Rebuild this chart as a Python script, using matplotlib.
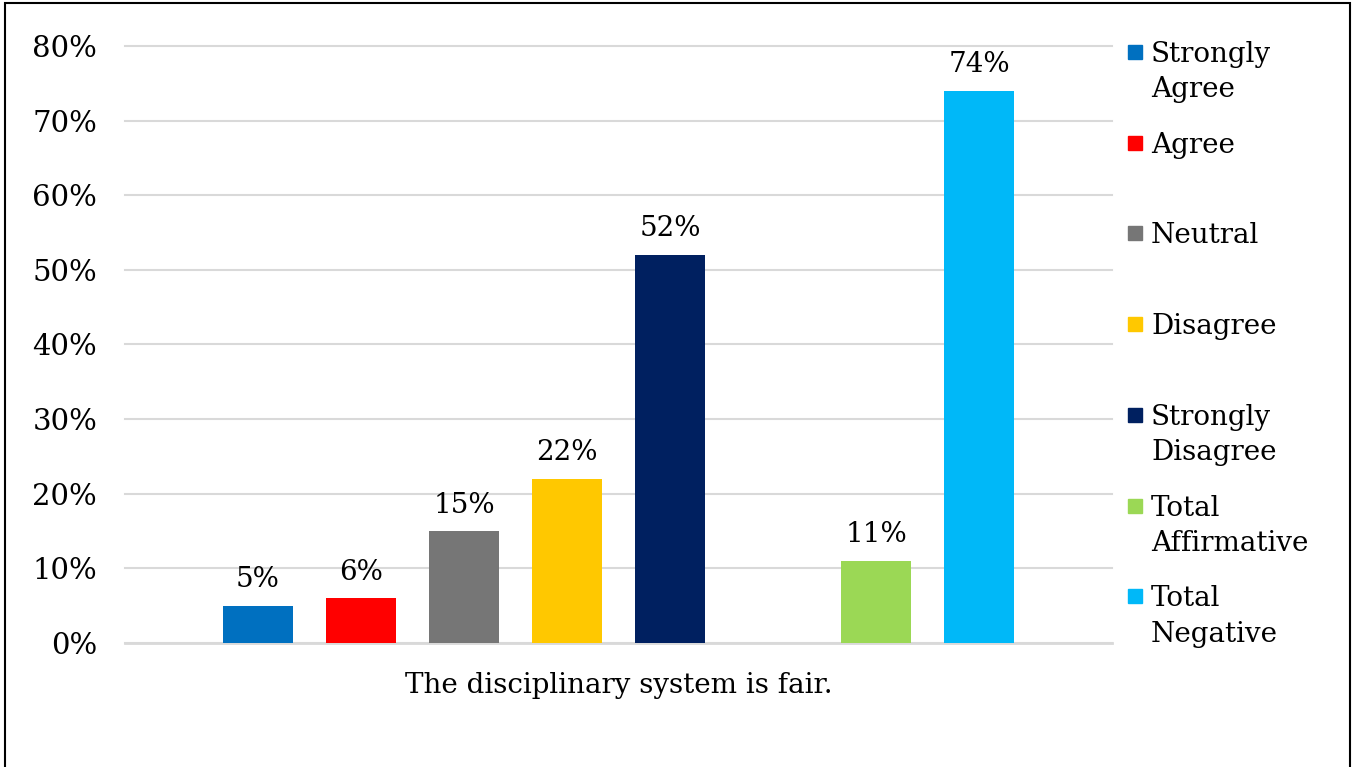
import matplotlib.pyplot as plt
from matplotlib.patches import Rectangle

labels = ["Strongly\nAgree", "Agree", "Neutral", "Disagree",
          "Strongly\nDisagree", "Total\nAffirmative", "Total\nNegative"]
values = [0.05, 0.06, 0.15, 0.22, 0.52, 0.11, 0.74]
slots = [0, 1, 2, 3, 4, 6, 7]  # slot 5 is left empty, as in the original
colors = ["#0070C0", "#FF0000", "#767676", "#FFC800", "#002060", "#9BD855", "#00B8F8"]
category = "The disciplinary system is fair."
yticks = [0, 0.1, 0.2, 0.3, 0.4, 0.5, 0.6, 0.7, 0.8]

plt.rcParams['font.family'] = ['DejaVu Serif']
fs = 20

fig = plt.figure(figsize=(13.53, 7.67), dpi=100)
ax = fig.add_axes([0.0924, 0.1617, 0.822 - 0.0924, 0.940 - 0.1617])

bars = ax.bar(slots, values, width=0.68, color=colors, zorder=3)
for x, v in zip(slots, values):
    ax.annotate(f"{v*100:.0f}%", (x, v), xytext=(0, 9), textcoords="offset points",
                ha="center", va="bottom", fontsize=fs)

ax.set_xlim(-1.29, 8.29)
ax.set_ylim(0, 0.8)
ax.set_yticks(yticks)
ax.set_yticklabels([f"{t*100:.0f}%" for t in yticks], fontsize=fs + 1)
ax.set_xticks([3.5])
ax.set_xticklabels([category], fontsize=fs)
ax.tick_params(axis="both", length=0)
ax.tick_params(axis="y", pad=20)
ax.tick_params(axis="x", pad=21)
ax.grid(axis="y", color="#d9d9d9", linewidth=1.5, zorder=0)
for gl in ax.get_ygridlines():
    gl.set_clip_on(False)
for s in ["top", "right", "left"]:
    ax.spines[s].set_visible(False)
ax.spines["bottom"].set_color("#d9d9d9")
ax.spines["bottom"].set_linewidth(2)

# legend, drawn by hand so every entry gets the same height
W, H = 1353, 767
for i, (lab, c) in enumerate(zip(labels, colors)):
    yc = 52 + i * 90.7
    fig.patches.append(Rectangle((1128 / W, 1 - (yc + 7) / H), 14 / W, 14 / H,
                                 transform=fig.transFigure, color=c))
    fig.text(1151 / W, 1 - (yc - 11) / H, lab, fontsize=fs, va="top", ha="left",
             linespacing=1.4)

# outer frame
fig.patches.append(Rectangle((5 / W, -0.05), (1350 - 5) / W, 1.05 - 3 / H,
                             transform=fig.transFigure, fill=False,
                             edgecolor="black", linewidth=1.5))

fig.savefig("out.png", dpi=100)
